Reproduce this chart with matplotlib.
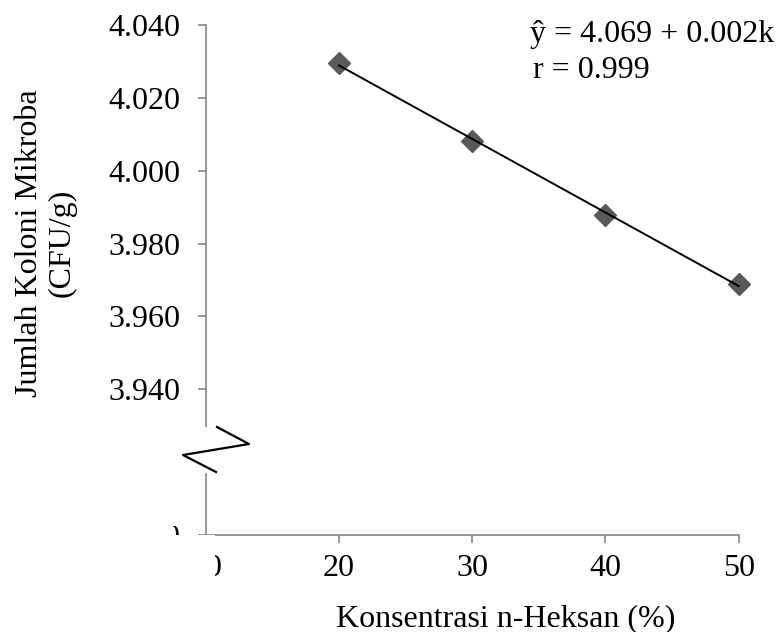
import numpy as np
import matplotlib
matplotlib.use("Agg")
import matplotlib.pyplot as plt
from matplotlib.patches import Rectangle
from matplotlib.lines import Line2D

# ---- data ----
konsentrasi = [20, 30, 40, 50]
koloni = [4.0295, 4.0082, 3.9878, 3.9690]
x_ticks = [10, 20, 30, 40, 50]
y_ticks = [3.900, 3.920, 3.940, 3.960, 3.980, 4.000, 4.020, 4.040]
equation_text = "ŷ = 4.069 + 0.002k"
r_text = "r = 0.999"
x_label = "Konsentrasi n-Heksan (%)"
y_label = "Jumlah Koloni Mikroba\n(CFU/g)"

W, H = 777, 632
plt.rcParams['font.family'] = ['Liberation Serif', 'DejaVu Serif']
FS = 23
GRAY = '#868686'

fig = plt.figure(figsize=(W / 100, H / 100), dpi=100)
fig.patch.set_facecolor('white')


def px(x, y):
    return x / W, 1 - y / H


left, right = 205.7, 738.7
top, bottom = 25, 535
ax = fig.add_axes([left / W, 1 - bottom / H, (right - left) / W, (bottom - top) / H])
ax.set_xlim(10, 50)
ax.set_ylim(3.900, 4.040)
for s in ['top', 'right']:
    ax.spines[s].set_visible(False)
for s in ['left', 'bottom']:
    ax.spines[s].set_color(GRAY)
    ax.spines[s].set_linewidth(1.2)
ax.set_xticks(x_ticks)
ax.set_xticklabels([str(v) for v in x_ticks])
ax.set_yticks(y_ticks)
ax.set_yticklabels([f"{v:.3f}" for v in y_ticks])
ax.tick_params(axis='both', direction='out', length=6, width=1.2, color=GRAY,
               labelsize=FS, labelcolor='black')
ax.tick_params(axis='y', pad=12)
ax.tick_params(axis='x', pad=8)

ax.plot(konsentrasi, koloni, linestyle='none', marker='D', markersize=11,
        color='#595959', zorder=3, clip_on=False)
coef = np.polyfit(konsentrasi, koloni, 1)
xs = np.array([min(konsentrasi), max(konsentrasi)])
ax.plot(xs, np.polyval(coef, xs), color='black', linewidth=1.4, zorder=4, clip_on=False)

# ---- axis break decoration (white covers + zigzag) ----
covers = [
    (195, 427, 215, 473),   # gap in y axis
    (100, 445, 182, 526),   # hidden labels
    (100, 526, 173, 534.6),
    (100, 534.6, 215, 600),
]
for x0, y0, x1, y1 in covers:
    fx0, fy1 = px(x0, y1)
    fx1, fy0 = px(x1, y0)
    fig.add_artist(Rectangle((fx0, fy1), fx1 - fx0, fy0 - fy1, transform=fig.transFigure,
                             facecolor='white', edgecolor='none', zorder=5))
zz = [(217, 427), (249, 444), (183, 455), (216, 472)]
fig.add_artist(Line2D([px(*p)[0] for p in zz], [px(*p)[1] for p in zz],
                      transform=fig.transFigure, color='black', linewidth=1.6, zorder=6))

# ---- texts ----
fig.text(*px(530, 41.7), equation_text, fontsize=FS, ha='left', va='baseline')
fig.text(*px(533, 78), r_text, fontsize=FS, ha='left', va='baseline')
fig.text(*px(506, 626), x_label, fontsize=FS, ha='center', va='baseline')
fig.text(*px(46, 243), y_label, fontsize=FS, ha='center', va='center', rotation=90,
         multialignment='center', linespacing=1.15)

fig.savefig('out.png', dpi=100, facecolor='white')
